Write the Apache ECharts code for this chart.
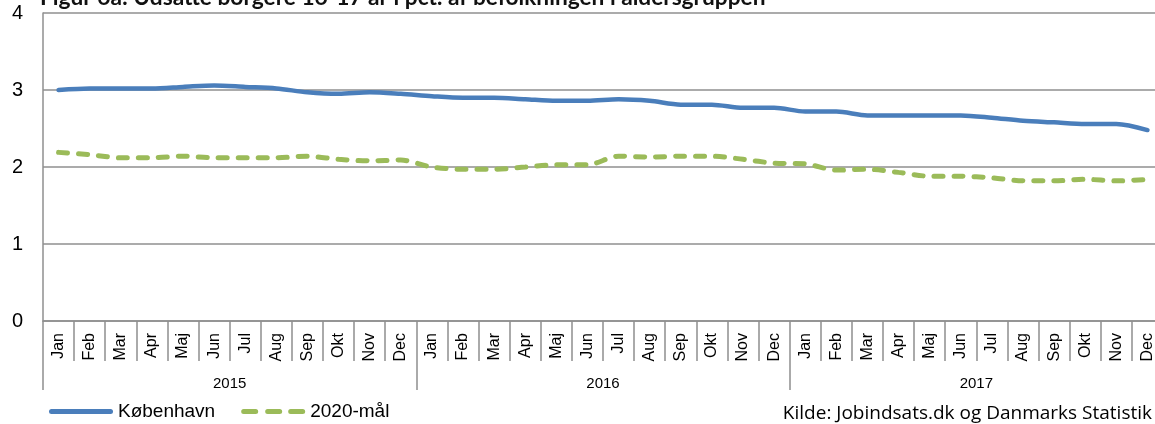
<!DOCTYPE html>
<html>
<head>
<meta charset="utf-8">
<script src="https://cdn.jsdelivr.net/npm/echarts@6/dist/echarts.min.js"></script>
<style>
  html, body { margin: 0; padding: 0; background: #fff; }
  #main { width: 1155px; height: 424px; }
</style>
</head>
<body>
<div id="main"></div>
<script>
// måneder og år
var months = ['Jan', 'Feb', 'Mar', 'Apr', 'Maj', 'Jun', 'Jul', 'Aug', 'Sep', 'Okt', 'Nov', 'Dec'];
var years = ['2015', '2016', '2017'];
var categories = [];
years.forEach(function (y) {
  months.forEach(function (m) { categories.push(m); });
});

// København, pct.
var kbh = [
  3.00, 3.02, 3.02, 3.02, 3.04, 3.06, 3.04, 3.02, 2.97, 2.95, 2.97, 2.95,
  2.92, 2.90, 2.90, 2.88, 2.86, 2.86, 2.88, 2.86, 2.81, 2.81, 2.77, 2.77,
  2.72, 2.72, 2.67, 2.67, 2.67, 2.67, 2.64, 2.60, 2.58, 2.56, 2.56, 2.48
];
// 2020-mål, pct.
var maal2020 = [
  2.19, 2.16, 2.12, 2.12, 2.14, 2.12, 2.12, 2.12, 2.14, 2.10, 2.08, 2.09,
  2.00, 1.97, 1.97, 2.00, 2.03, 2.03, 2.14, 2.13, 2.14, 2.14, 2.10, 2.05,
  2.04, 1.96, 1.97, 1.93, 1.88, 1.88, 1.86, 1.82, 1.82, 1.84, 1.82, 1.84
];

var gridColor = '#8f8f8f';

var chart = echarts.init(document.getElementById('main'));

var option = {
  animation: false,
  grid: {
    left: 43,
    right: -8,
    top: 13,
    bottom: 103,
    outerBoundsMode: 'none'
  },
  legend: {
    left: 44,
    bottom: -2,
    itemWidth: 64,
    itemHeight: 5,
    itemGap: 26,
    textStyle: { fontFamily: 'Liberation Sans', fontSize: 19, color: '#000' },
    data: [
      { name: 'København', icon: 'path://M2.5,0H61.5A2.5,2.5 0 0 1 61.5,5H2.5A2.5,2.5 0 0 1 2.5,0Z' },
      { name: '2020-mål', icon: 'path://M2.5,0H14.5A2.5,2.5 0 0 1 14.5,5H2.5A2.5,2.5 0 0 1 2.5,0Z M26.5,0H38.5A2.5,2.5 0 0 1 38.5,5H26.5A2.5,2.5 0 0 1 26.5,0Z M49.5,0H61.5A2.5,2.5 0 0 1 61.5,5H49.5A2.5,2.5 0 0 1 49.5,0Z' }
    ]
  },
  graphic: [
    {
      type: 'text',
      left: 40,
      top: -14,
      style: {
        text: 'Figur 6a: Udsatte borgere 16-17 år i pct. af befolkningen i aldersgruppen',
        font: 'bold 22.7px Lato',
        fill: '#111'
      }
    },
    {
      type: 'text',
      right: 3,
      bottom: 1,
      style: {
        text: 'Kilde: Jobindsats.dk og Danmarks Statistik',
        font: '19px "Open Sans"',
        fill: '#000'
      }
    }
  ],
  xAxis: [
    {
      type: 'category',
      data: categories,
      boundaryGap: true,
      axisLine: { show: true, lineStyle: { color: gridColor, width: 1.5 } },
      axisTick: { show: true, interval: 0, length: 40, lineStyle: { color: gridColor, width: 1.5 } },
      axisLabel: {
        interval: 0,
        rotate: 90,
        margin: 12,
        fontFamily: 'Liberation Sans',
        fontSize: 16,
        color: '#000'
      }
    },
    {
      type: 'category',
      data: years,
      position: 'bottom',
      boundaryGap: true,
      axisLine: { show: false },
      axisTick: { show: true, interval: 0, length: 69, lineStyle: { color: gridColor, width: 1.5 } },
      axisLabel: {
        interval: 0,
        margin: 55,
        fontFamily: 'Liberation Sans',
        fontSize: 15,
        color: '#000'
      }
    }
  ],
  yAxis: {
    type: 'value',
    min: 0,
    max: 4,
    interval: 1,
    axisLine: { show: true, lineStyle: { color: gridColor, width: 1.5 } },
    axisTick: { show: false },
    splitLine: { lineStyle: { color: gridColor, width: 1.5 } },
    axisLabel: {
      margin: 20,
      fontFamily: 'Liberation Sans',
      fontSize: 20,
      color: '#000'
    }
  },
  series: [
    {
      name: 'København',
      type: 'line',
      data: kbh,
      xAxisIndex: 0,
      smooth: 0.3,
      symbol: 'none',
      lineStyle: { color: '#4a7ebb', width: 4.5, cap: 'round' },
      itemStyle: { color: '#4a7ebb' }
    },
    {
      name: '2020-mål',
      type: 'line',
      data: maal2020,
      xAxisIndex: 0,
      smooth: 0.3,
      symbol: 'none',
      lineStyle: { color: '#9bbb59', width: 5, type: [9, 11], cap: 'round' },
      itemStyle: { color: '#9bbb59' }
    }
  ]
};

chart.setOption(option);
</script>
</body>
</html>
